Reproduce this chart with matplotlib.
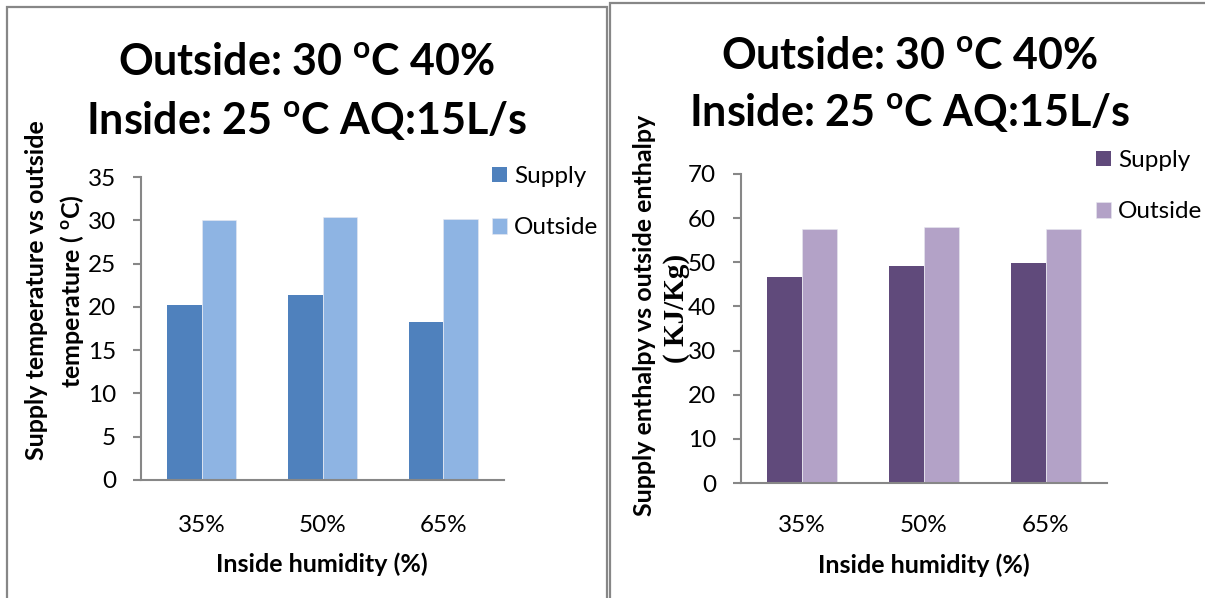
import matplotlib
matplotlib.use("Agg")
import matplotlib.pyplot as plt
from matplotlib.patches import Rectangle
import numpy as np

# --- Data ---
humidity = ["35%", "50%", "65%"]
temp_supply = [20.2, 21.4, 18.3]
temp_outside = [30.0, 30.4, 30.1]
enth_supply = [46.7, 49.2, 49.9]
enth_outside = [57.5, 58.1, 57.6]

TITLE_1 = "Outside: 30 $^{\\mathbf{o}}$C 40%"
TITLE_2 = "Inside: 25 $^{\\mathbf{o}}$C AQ:15L/s"
FONT = "Lato"
GREY = "#878787"

plt.rcParams["font.family"] = [FONT, "DejaVu Sans"]
plt.rcParams["mathtext.fontset"] = "custom"
plt.rcParams["mathtext.rm"] = FONT
plt.rcParams["mathtext.bf"] = FONT + ":bold"

W, H = 1205, 598
fig = plt.figure(figsize=(W / 100, H / 100), dpi=100)


def fx(px):
    return px / W


def fy(py):
    return 1 - py / H


def bar_panel(rect, supply, outside, c_sup, c_out, ymax, step, xpad, legend_xy):
    ax = fig.add_axes(rect)
    x = np.arange(len(humidity))
    w = 0.285
    b1 = ax.bar(x - w / 2, supply, w, color=c_sup, label="Supply")
    b2 = ax.bar(x + w / 2, outside, w, color=c_out, label="Outside",
                edgecolor="#e8e8f0", linewidth=0.4)
    ax.set_xlim(-0.5, len(humidity) - 0.5)
    ax.set_ylim(0, ymax)
    ax.set_yticks(np.arange(0, ymax + 1, step))
    ax.set_xticks(x)
    ax.set_xticklabels(humidity)
    for s in ("top", "right"):
        ax.spines[s].set_visible(False)
    for s in ("left", "bottom"):
        ax.spines[s].set_color(GREY)
        ax.spines[s].set_linewidth(1.5)
    ax.tick_params(axis="y", length=6, width=1.5, color=GREY, pad=12,
                   labelsize=17.5)
    ax.tick_params(axis="x", length=0, pad=xpad, labelsize=17.5)
    ax.legend(handles=[b1, b2], loc="upper left", bbox_to_anchor=legend_xy,
              bbox_transform=fig.transFigure, frameon=False, fontsize=17.5,
              handlelength=0.6, handleheight=0.6, handletextpad=0.3,
              labelspacing=1.25, borderaxespad=0, borderpad=0)
    return ax


# Left panel: temperature
ax1 = bar_panel([fx(141), fy(480), fx(363), 303 / H], temp_supply, temp_outside,
                "#4f81bd", "#8eb4e3", 35, 5, 25, (fx(492), fy(166)))
# Right panel: enthalpy
ax2 = bar_panel([fx(741), fy(483), fx(366), 309 / H], enth_supply, enth_outside,
                "#604a7b", "#b3a2c7", 70, 10, 23, (fx(1096), fy(150)))

# Titles, one line at a time
ttl = dict(ha="center", va="center", fontsize=31, fontweight="bold")
fig.text(fx(307), fy(62), TITLE_1, **ttl)
fig.text(fx(307), fy(120), TITLE_2, **ttl)
fig.text(fx(910), fy(56), TITLE_1, **ttl)
fig.text(fx(910), fy(113), TITLE_2, **ttl)

# Axis titles
lab = dict(fontsize=18, fontweight="bold", ha="center", va="center")
fig.text(fx(322), fy(564), "Inside humidity (%)", **lab)
fig.text(fx(924), fy(565), "Inside humidity (%)", **lab)
fig.text(fx(37), fy(290), "Supply temperature vs outside", rotation=90, **lab)
fig.text(fx(72), fy(291), "temperature ( $^{\\mathbf{o}}$C)", rotation=90, **lab)
fig.text(fx(644), fy(315), "Supply enthalpy vs outside enthalpy", rotation=90, **lab)
fig.text(fx(676), fy(308), "( KJ/Kg)", rotation=90, fontsize=21,
         fontweight="bold", family="Liberation Serif", ha="center", va="center")

# Chart area frames
fig.add_artist(Rectangle((fx(6.5), fy(640)), fx(600), 633.5 / H, fill=False,
                         edgecolor=GREY, linewidth=1.6, transform=fig.transFigure))
fig.add_artist(Rectangle((fx(610), fy(640)), fx(640), 637 / H, fill=False,
                         edgecolor=GREY, linewidth=1.6, transform=fig.transFigure))

fig.savefig("out.png", dpi=100)
